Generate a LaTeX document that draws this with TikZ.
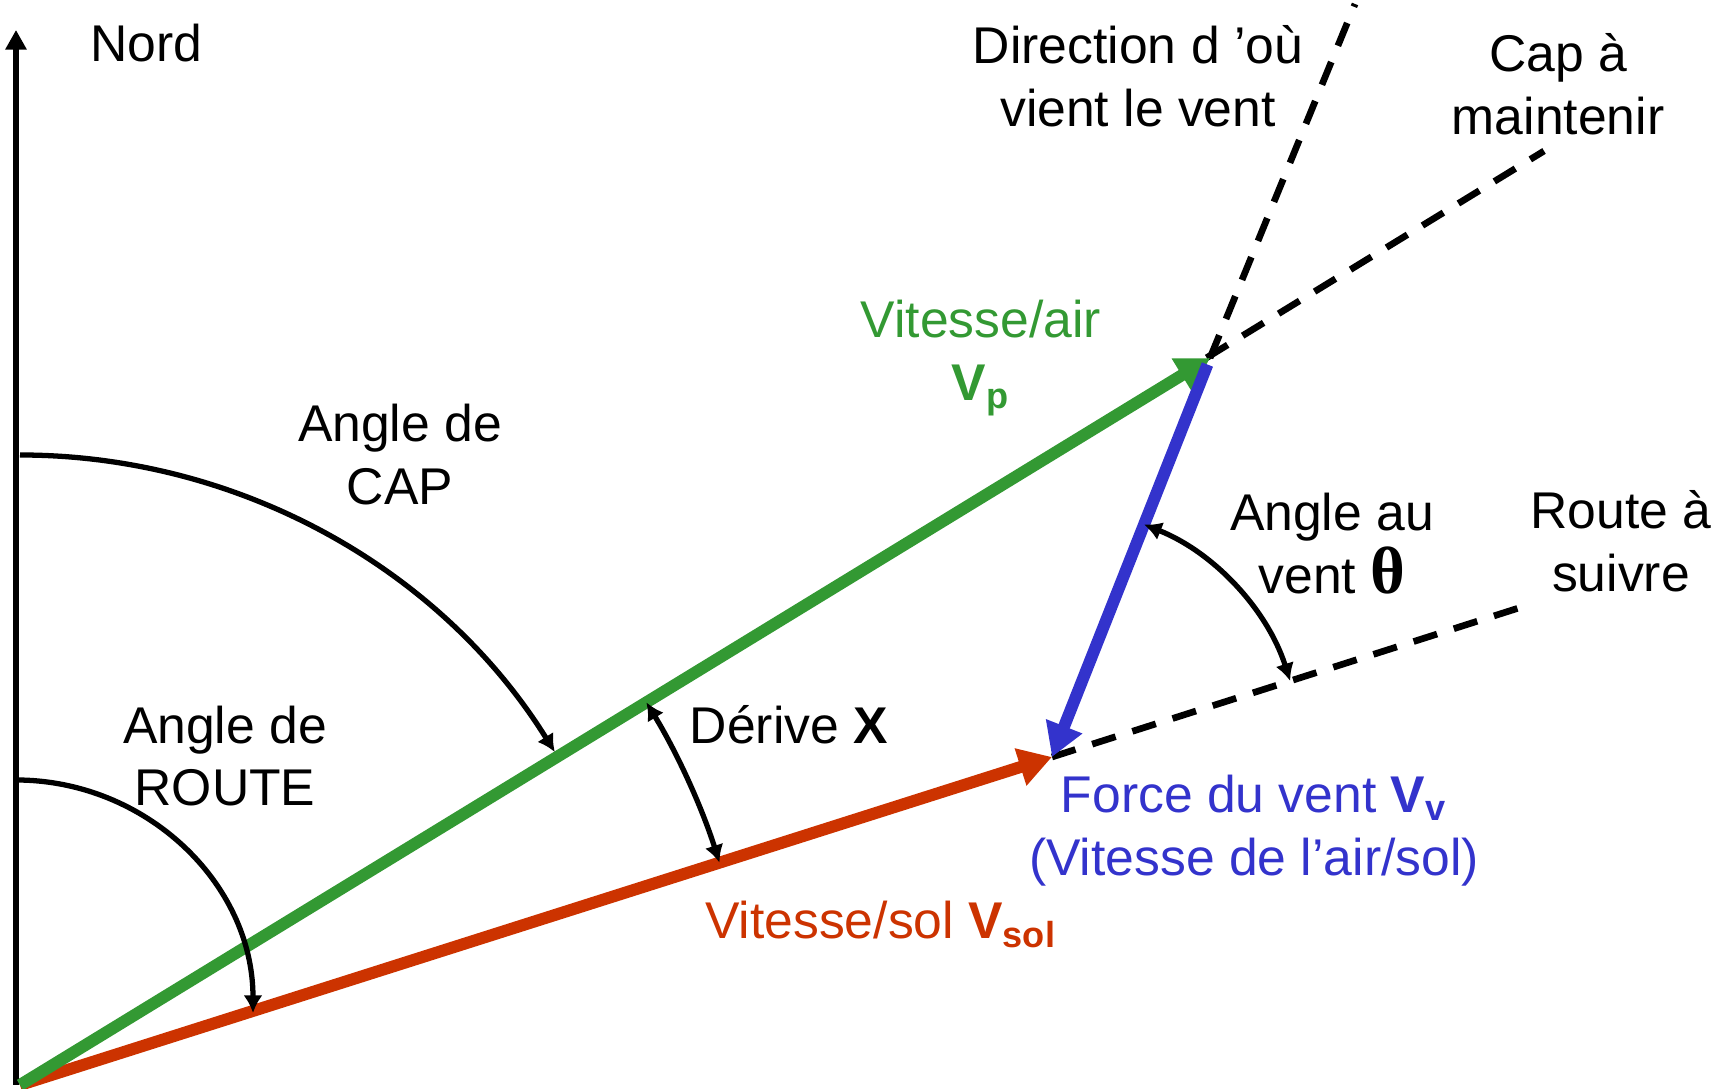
\documentclass[tikz,border=0pt]{standalone}
\usepackage{fontspec}
\setmainfont{Liberation Sans}
\newfontfamily\greekfont{Liberation Serif}
\usetikzlibrary{arrows.meta}
\definecolor{airgreen}{RGB}{51,153,51}
\definecolor{solred}{RGB}{204,51,0}
\definecolor{ventblue}{RGB}{51,51,204}

\begin{document}
\begin{tikzpicture}[>={Latex[length=5pt,width=5.4pt]},
  vec/.style={line width=3.4pt, -{Triangle[length=9.4pt,width=10.5pt]}},
  guide/.style={line width=1.9pt, dash pattern=on 7pt off 5pt},
  angarc/.style={line width=1.5pt},
  lbl/.style={font=\fontsize{14.7}{17.9}\selectfont, align=center, inner sep=0pt}]
\useasboundingbox (0,0) rectangle (17.33,10.89);
\coordinate (o) at (0.20,0.04);
\coordinate (n) at (0.16,10.59);
\coordinate (p) at (12.10,7.31);
\coordinate (s) at (10.52,3.32);
\coordinate (c) at (15.44,9.38);
\coordinate (w) at (13.55,10.85);
\coordinate (r) at (15.25,4.83);
\coordinate (ra) at (0.16,3.09);
\coordinate (rb) at (2.53,0.76);

% nord et droites en tirets
\draw[line width=1.7pt, -{Triangle[length=5.6pt,width=5.8pt]}] (o -| n) -- (n);
\draw[guide] (o) -- (c);
\draw[guide] (p) -- (w);
\draw[guide] (s) -- (r);

% vecteurs
\draw[vec, solred] (o) -- (s);
\draw[vec, airgreen] (o) -- (p);
\draw[vec, ventblue, shorten <=2pt] (p) -- (s);

% angles
\draw[angarc, ->] ([shift={(90:6.3)}]o) arc[start angle=90, end angle=31.9, radius=6.3];
\draw[angarc, ->] (ra) to[out=0, in=90] (rb);
\draw[angarc, <->] ([shift={(17.63:7.34)}]o) arc[start angle=17.63, end angle=31.42, radius=7.34];
\draw[angarc, <->] ([shift={(17.7:2.5)}]s) arc[start angle=17.7, end angle=68.4, radius=2.5];

% textes
\node[lbl, anchor=base] (nord) at (1.46,10.27) {Nord};
\node[lbl] (dir) at (11.38,10.13) {Direction d ’où\\vient le vent};
\node[lbl] (cap) at (15.58,10.05) {Cap à\\maintenir};
\node[lbl, text=airgreen] (va) at (9.81,7.31) {Vitesse/air\\\textbf{V\textsubscript{p}}};
\node[lbl] (acap) at (4.00,6.34) {Angle de\\CAP};
\node[lbl] (avent) at (13.32,5.45) {Angle au\\vent {\greekfont\bfseries\fontsize{19}{19}\selectfont θ}};
\node[lbl] (route) at (16.21,5.48) {Route à\\suivre};
\node[lbl, anchor=base] (derive) at (7.89,3.45) {Dérive \textbf{X}};
\node[lbl] (aroute) at (2.25,3.33) {Angle de\\ROUTE};
\node[lbl, text=ventblue] (force) at (12.54,2.58) {Force du vent \textbf{V\textsubscript{v}}\\(Vitesse de l’air/sol)};
\node[lbl, text=solred, anchor=base] (vsol) at (8.81,1.50) {Vitesse/sol \textbf{V\textsubscript{sol}}};
\end{tikzpicture}
\end{document}
